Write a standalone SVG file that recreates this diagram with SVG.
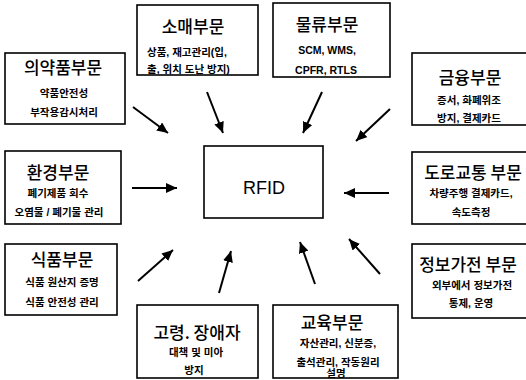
<svg xmlns="http://www.w3.org/2000/svg" width="526" height="380" viewBox="0 0 526 380">
<defs>
<style>
.box{fill:#fff;stroke:#000;stroke-width:1.6}
.t{font-family:"Noto Sans CJK KR","Liberation Sans",sans-serif;font-size:17px;font-weight:500;text-anchor:middle;fill:#000}
.s{font-family:"Liberation Sans","Noto Sans CJK KR",sans-serif;font-size:10.5px;font-weight:bold;text-anchor:middle;fill:#000}
.r{font-family:"Liberation Sans",Arial,sans-serif;font-size:18px;text-anchor:middle;fill:#000}
.c line{stroke:#000;stroke-width:2;marker-end:url(#ah)}
</style>
<marker id="ah" markerUnits="userSpaceOnUse" markerWidth="12" markerHeight="10" refX="11" refY="5" orient="auto">
<path d="M0,0 L11,5 L0,10 z" fill="#000"/>
</marker>
</defs>
<rect width="526" height="380" fill="#fff"/>
<g id="rfid"><rect class="box" x="204" y="146" width="119" height="72"/><text class="r" x="264" y="194">RFID</text></g>
<g id="pharma"><rect class="box" x="5" y="53" width="120" height="71"/><text class="t" x="63" y="74">의약품부문</text><text class="s" x="64" y="97">약품안전성</text><text class="s" x="64" y="116">부작용감시처리</text></g>
<g id="retail"><rect class="box" x="137" y="5" width="121" height="70"/><text class="t" x="193" y="33">소매부문</text><text class="s" x="147" y="56" style="text-anchor:start">상품, 재고관리(입,</text><text class="s" x="147" y="73" style="text-anchor:start">출, 위치 도난 방지)</text></g>
<g id="logistics"><rect class="box" x="273" y="3" width="117" height="74"/><text class="t" x="327" y="31">물류부문</text><text class="s" x="327" y="54">SCM, WMS,</text><text class="s" x="326" y="74">CPFR, RTLS</text></g>
<g id="finance"><rect class="box" x="412" y="53" width="116" height="72"/><text class="t" x="470" y="84">금융부문</text><text class="s" x="469" y="104">증서, 화폐위조</text><text class="s" x="469" y="122">방지, 결제카드</text></g>
<g id="environment"><rect class="box" x="5" y="151" width="116" height="73"/><text class="t" x="58" y="179">환경부문</text><text class="s" x="58" y="197">폐기제품 회수</text><text class="s" x="59" y="216">오염물 / 폐기물 관리</text></g>
<g id="traffic"><rect class="box" x="412" y="152" width="116" height="72"/><text class="t" x="473" y="179">도로교통 부문</text><text class="s" x="471" y="197">차량주행 결제카드,</text><text class="s" x="471" y="216">속도측정</text></g>
<g id="food"><rect class="box" x="5" y="244" width="112" height="71"/><text class="t" x="62" y="266">식품부문</text><text class="s" x="62" y="286">식품 원산지 증명</text><text class="s" x="62" y="306">식품 안전성 관리</text></g>
<g id="appliance"><rect class="box" x="412" y="244" width="116" height="74"/><text class="t" x="468" y="271">정보가전 부문</text><text class="s" x="472" y="289">외부에서 정보가전</text><text class="s" x="471" y="307">통제, 운영</text></g>
<g id="elderly"><rect class="box" x="137" y="305" width="121" height="73"/><text class="t" x="197" y="339">고령. 장애자</text><text class="s" x="196" y="356">대책 및 미아</text><text class="s" x="194" y="374">방지</text></g>
<g id="education"><rect class="box" x="273" y="305" width="125" height="73"/><text class="t" x="332" y="329">교육부문</text><text class="s" x="338" y="347">자산관리, 신분증,</text><text class="s" x="338" y="366">출석관리, 작동원리</text><text class="s" x="336" y="377">설명</text></g>
<g id="connectors" class="c">
<line x1="133" y1="107" x2="168" y2="133"/>
<line x1="207" y1="92" x2="223" y2="133"/>
<line x1="322" y1="92" x2="303" y2="133"/>
<line x1="390" y1="109" x2="356" y2="141"/>
<line x1="132" y1="188" x2="177" y2="188"/>
<line x1="389" y1="193" x2="344" y2="193"/>
<line x1="138" y1="281" x2="173" y2="250"/>
<line x1="219" y1="293" x2="231" y2="251"/>
<line x1="315" y1="284" x2="300" y2="242"/>
<line x1="380" y1="274" x2="349" y2="239"/>
</g>
</svg>
